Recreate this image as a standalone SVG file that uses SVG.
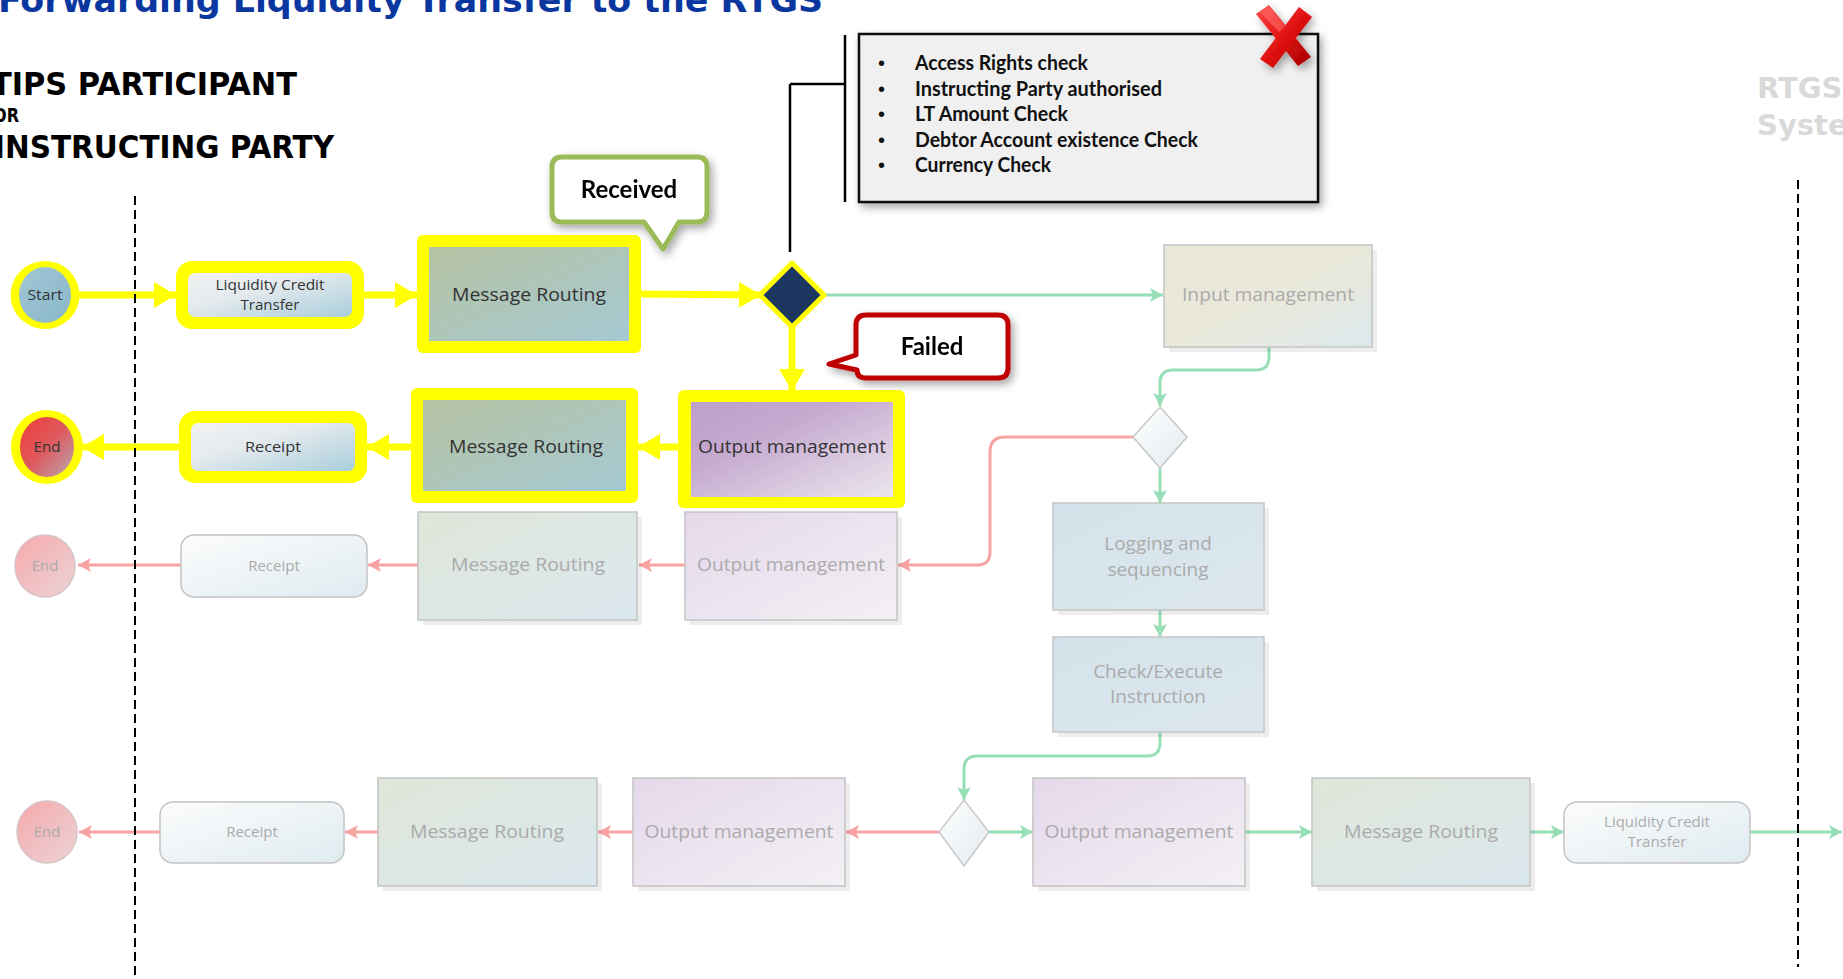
<svg xmlns="http://www.w3.org/2000/svg" width="1843" height="979" viewBox="0 0 1843 979">
<defs>
<style>
.title{font-family:"DejaVu Sans",Verdana,sans-serif;font-weight:bold;font-size:34px;fill:#0a36a0}
.hdr{font-family:"DejaVu Sans Condensed","DejaVu Sans",sans-serif;font-weight:bold;fill:#000}
.rtgs{font-family:"DejaVu Sans",sans-serif;font-weight:bold;font-size:29px;fill:#d9d9d9}
.t{font-family:"Open Sans","Noto Sans",sans-serif;font-size:19px;fill:#333;text-anchor:middle}
.ts{font-family:"Open Sans","Noto Sans",sans-serif;font-size:15px;fill:#333;text-anchor:middle}
.tf{font-family:"Open Sans","Noto Sans",sans-serif;font-size:19px;fill:#ababab;text-anchor:middle}
.tfs{font-family:"Open Sans","Noto Sans",sans-serif;font-size:15px;fill:#ababab;text-anchor:middle}
.call{font-family:Lato,"Liberation Sans",sans-serif;font-weight:bold;font-size:24px;fill:#000;text-anchor:middle}
.info{font-family:Lato,"Liberation Sans",sans-serif;font-weight:bold;font-size:20px;fill:#111}
.bul{font-family:"Liberation Sans",sans-serif;font-size:20px;fill:#111}
.yl{fill:none;stroke:#ffff00;stroke-width:7}
.gl{fill:none;stroke:#96dfb6;stroke-width:3}
.rl{fill:none;stroke:#f8a2a2;stroke-width:3}
.fbox{stroke:#c4c4c4;stroke-width:1.5}
.dash{stroke:#000;stroke-width:2;stroke-dasharray:9 5;fill:none}
.br{stroke:#000;stroke-width:2.5;fill:none}
.sh{fill:#000;opacity:0.07}
</style>
<linearGradient id="gMR" x1="0" y1="0" x2="1" y2="1"><stop offset="0" stop-color="#b6c3a2"/><stop offset="1" stop-color="#a5c9d3"/></linearGradient>
<linearGradient id="gMRf" x1="0" y1="0" x2="1" y2="1"><stop offset="0" stop-color="#dfe6d9"/><stop offset="1" stop-color="#dbe8ee"/></linearGradient>
<linearGradient id="gOM" x1="0" y1="0" x2="1" y2="1"><stop offset="0" stop-color="#bd9fca"/><stop offset="0.35" stop-color="#c5a9cf"/><stop offset="1" stop-color="#ece6ee"/></linearGradient>
<linearGradient id="gOMf" x1="0" y1="0" x2="1" y2="1"><stop offset="0" stop-color="#e5d8ea"/><stop offset="1" stop-color="#f3f0f5"/></linearGradient>
<linearGradient id="gLCT" x1="0" y1="0" x2="1" y2="1"><stop offset="0" stop-color="#f2f2f2"/><stop offset="0.4" stop-color="#e4eaee"/><stop offset="1" stop-color="#a9cedb"/></linearGradient>
<linearGradient id="gLCTf" x1="0" y1="0" x2="1" y2="1"><stop offset="0" stop-color="#fcfcfc"/><stop offset="1" stop-color="#dfebf0"/></linearGradient>
<linearGradient id="gIN" x1="0" y1="0" x2="1" y2="1"><stop offset="0" stop-color="#ebe7d6"/><stop offset="0.6" stop-color="#e8e8dc"/><stop offset="1" stop-color="#dbe9ee"/></linearGradient>
<linearGradient id="gLOG" x1="0" y1="0" x2="1" y2="1"><stop offset="0" stop-color="#d3e2ea"/><stop offset="1" stop-color="#dde8ee"/></linearGradient>
<linearGradient id="gDF" x1="0" y1="0" x2="1" y2="1"><stop offset="0" stop-color="#ffffff"/><stop offset="1" stop-color="#e2eaee"/></linearGradient>
<linearGradient id="gStart" x1="0" y1="0" x2="1" y2="1"><stop offset="0" stop-color="#a0c6d4"/><stop offset="1" stop-color="#8ab7ca"/></linearGradient>
<linearGradient id="gEnd" x1="0" y1="0" x2="1" y2="1"><stop offset="0" stop-color="#f23a3a"/><stop offset="0.5" stop-color="#de5a5e"/><stop offset="1" stop-color="#b9aab6"/></linearGradient>
<linearGradient id="gEndf" x1="0" y1="0" x2="1" y2="1"><stop offset="0" stop-color="#f5a9ab"/><stop offset="1" stop-color="#ecd3d6"/></linearGradient>
<linearGradient id="gX" x1="0" y1="0" x2="1" y2="1"><stop offset="0" stop-color="#ff4a4a"/><stop offset="0.5" stop-color="#e01010"/><stop offset="1" stop-color="#a80000"/></linearGradient>
<filter id="ds" x="-10%" y="-10%" width="130%" height="140%"><feDropShadow dx="3" dy="4" stdDeviation="4" flood-color="#000" flood-opacity="0.35"/></filter>
<marker id="ay" markerUnits="userSpaceOnUse" markerWidth="24" markerHeight="26" refX="22" refY="13" orient="auto"><path d="M0,0 L22,13 L0,26 Z" fill="#ffff00"/></marker>
<marker id="ag" markerUnits="userSpaceOnUse" markerWidth="14" markerHeight="14" refX="13" refY="7" orient="auto"><path d="M0,0 L13,7 L0,14 L3,7 Z" fill="#96dfb6"/></marker>
<marker id="ar" markerUnits="userSpaceOnUse" markerWidth="14" markerHeight="14" refX="13" refY="7" orient="auto"><path d="M0,0 L13,7 L0,14 L3,7 Z" fill="#f8a2a2"/></marker>
</defs>
<rect width="1843" height="979" fill="#ffffff"/>

<g id="title"><text class="title" x="-2" y="12" textLength="825" lengthAdjust="spacingAndGlyphs">Forwarding Liquidity Transfer to the RTGS</text></g>
<g id="lane-left-header">
<text class="hdr" x="-9" y="95" font-size="32" textLength="306" lengthAdjust="spacingAndGlyphs">TIPS PARTICIPANT</text>
<text class="hdr" x="-7" y="122" font-size="19" textLength="26" lengthAdjust="spacingAndGlyphs">OR</text>
<text class="hdr" x="-6" y="158" font-size="32" textLength="340" lengthAdjust="spacingAndGlyphs">INSTRUCTING PARTY</text>
</g>
<g id="lane-right-header">
<text class="rtgs" x="1757" y="98">RTGS</text>
<text class="rtgs" x="1757" y="135">System</text>
</g>

<g id="connectors">
<path class="yl" d="M78,295 H176" marker-end="url(#ay)"/>
<path class="yl" d="M364,295 H417" marker-end="url(#ay)"/>
<path class="yl" d="M641,294 L761,295" marker-end="url(#ay)"/>
<path class="yl" d="M792,327 V391" marker-end="url(#ay)"/>
<path class="yl" d="M679,447 H638" marker-end="url(#ay)"/>
<path class="yl" d="M411,447 H367" marker-end="url(#ay)"/>
<path class="yl" d="M179,447 H82" marker-end="url(#ay)"/>

<path class="gl" d="M824,295 H1163" marker-end="url(#ag)"/>
<path class="gl" d="M1269,347 V357 Q1269,370 1256,370 H1173 Q1160,370 1160,383 V406" marker-end="url(#ag)"/>
<path class="gl" d="M1160,468 V503" marker-end="url(#ag)"/>
<path class="gl" d="M1160,610 V637" marker-end="url(#ag)"/>
<path class="gl" d="M1160,733 V743 Q1160,756 1147,756 H977 Q964,756 964,769 V800" marker-end="url(#ag)"/>
<path class="gl" d="M989,832 H1033" marker-end="url(#ag)"/>
<path class="gl" d="M1245,832 H1312" marker-end="url(#ag)"/>
<path class="gl" d="M1530,832 H1564" marker-end="url(#ag)"/>
<path class="gl" d="M1750,832 H1842" marker-end="url(#ag)"/>

<path class="rl" d="M1133,437 H1005 Q990,437 990,452 V552 Q990,565 977,565 H898" marker-end="url(#ar)"/>
<path class="rl" d="M685,565 H639" marker-end="url(#ar)"/>
<path class="rl" d="M418,565 H368" marker-end="url(#ar)"/>
<path class="rl" d="M181,565 H78" marker-end="url(#ar)"/>
<path class="rl" d="M939,832 H846" marker-end="url(#ar)"/>
<path class="rl" d="M633,832 H598" marker-end="url(#ar)"/>
<path class="rl" d="M378,832 H345" marker-end="url(#ar)"/>
<path class="rl" d="M160,832 H79" marker-end="url(#ar)"/>

<path class="br" d="M845,35 V202"/>
<path class="br" d="M790,84 H845"/>
<path class="br" d="M790,84 V252"/>
</g>

<g id="start">
<ellipse cx="45" cy="295" rx="34.5" ry="34" fill="#ffff00"/>
<ellipse cx="45" cy="295" rx="26" ry="28" fill="url(#gStart)"/>
<text class="ts" x="45" y="300" textLength="35" lengthAdjust="spacingAndGlyphs">Start</text>
</g>
<g id="lct1">
<rect x="176" y="261" width="188" height="68" rx="16" fill="#ffff00"/>
<rect x="188" y="273" width="164" height="44" rx="7" fill="url(#gLCT)"/>
<text class="ts" x="270" y="290" textLength="109" lengthAdjust="spacingAndGlyphs">Liquidity Credit</text>
<text class="ts" x="270" y="310" textLength="59" lengthAdjust="spacingAndGlyphs">Transfer</text>
</g>
<g id="mr1">
<rect x="417" y="235" width="224" height="118" rx="6" fill="#ffff00"/>
<rect x="429" y="247" width="200" height="94" fill="url(#gMR)"/>
<text class="t" x="529" y="301" textLength="154" lengthAdjust="spacingAndGlyphs">Message Routing</text>
</g>
<g id="decision1">
<path d="M792,263 L824,295 L792,327 L760,295 Z" fill="#1b365f" stroke="#ffff00" stroke-width="5" stroke-linejoin="round"/>
</g>
<g id="received-callout" filter="url(#ds)">
<path d="M562,157 H697 Q707,157 707,167 V212 Q707,222 697,222 H679 L663,249 L644,222 H562 Q552,222 552,212 V167 Q552,157 562,157 Z" fill="#ffffff" stroke="#9bbb59" stroke-width="5" stroke-linejoin="round"/>
<text class="call" x="629" y="198">Received</text>
</g>
<g id="checks-box">
<rect x="859" y="34" width="459" height="168" fill="#f0f0f0" stroke="#111" stroke-width="2.5" filter="url(#ds)"/>
<text class="bul" x="878" y="70">•</text><text class="info" x="915" y="70" textLength="173" lengthAdjust="spacingAndGlyphs">Access Rights check</text>
<text class="bul" x="878" y="96">•</text><text class="info" x="915" y="96" textLength="247" lengthAdjust="spacingAndGlyphs">Instructing Party authorised</text>
<text class="bul" x="878" y="121">•</text><text class="info" x="915" y="121" textLength="153" lengthAdjust="spacingAndGlyphs">LT Amount Check</text>
<text class="bul" x="878" y="147">•</text><text class="info" x="915" y="147" textLength="283" lengthAdjust="spacingAndGlyphs">Debtor Account existence Check</text>
<text class="bul" x="878" y="172">•</text><text class="info" x="915" y="172" textLength="136" lengthAdjust="spacingAndGlyphs">Currency Check</text>
</g>
<g id="red-x" filter="url(#ds)">
<path d="M1256,14 L1269,5 L1311,57 L1298,66 Z" fill="url(#gX)"/>
<path d="M1260,59 L1299,7 L1312,17 L1273,68 Z" fill="url(#gX)"/>
<path d="M1260,12 L1269,6 L1285,26 L1279,32 Z" fill="#ff6a6a" opacity="0.6"/>
</g>
<g id="input-mgmt">
<rect class="sh" x="1169" y="250" width="208" height="102"/>
<rect class="fbox" x="1164" y="245" width="208" height="102" fill="url(#gIN)"/>
<text class="tf" x="1268" y="301" textLength="172" lengthAdjust="spacingAndGlyphs">Input management</text>
</g>

<g id="end1">
<ellipse cx="47" cy="447" rx="36" ry="37" fill="#ffff00"/>
<ellipse cx="47" cy="447" rx="27" ry="30" fill="url(#gEnd)"/>
<text class="ts" x="47" y="452" textLength="27" lengthAdjust="spacingAndGlyphs">End</text>
</g>
<g id="receipt1">
<rect x="179" y="411" width="188" height="72" rx="16" fill="#ffff00"/>
<rect x="191" y="423" width="164" height="48" rx="7" fill="url(#gLCT)"/>
<text class="ts" x="273" y="452" textLength="56" lengthAdjust="spacingAndGlyphs">Receipt</text>
</g>
<g id="mr2">
<rect x="411" y="388" width="227" height="115" rx="6" fill="#ffff00"/>
<rect x="423" y="400" width="203" height="91" fill="url(#gMR)"/>
<text class="t" x="526" y="453" textLength="154" lengthAdjust="spacingAndGlyphs">Message Routing</text>
</g>
<g id="om1">
<rect x="678" y="390" width="227" height="118" rx="6" fill="#ffff00"/>
<rect x="691" y="402" width="202" height="95" fill="url(#gOM)"/>
<text class="t" x="792" y="453" textLength="188" lengthAdjust="spacingAndGlyphs">Output management</text>
</g>
<g id="failed-callout" filter="url(#ds)">
<path d="M866,315 H998 Q1008,315 1008,325 V368 Q1008,378 998,378 H866 Q857,378 857,370 L829,364 L856,355 V325 Q856,315 866,315 Z" fill="#ffffff" stroke="#c00000" stroke-width="5" stroke-linejoin="round"/>
<text class="call" x="932" y="355">Failed</text>
</g>

<g id="decision2">
<path d="M1160,407 L1187,437 L1160,468 L1133,437 Z" fill="url(#gDF)" stroke="#c8c8c8" stroke-width="1.5"/>
</g>
<g id="logging">
<rect class="sh" x="1058" y="508" width="211" height="107"/>
<rect class="fbox" x="1053" y="503" width="211" height="107" fill="url(#gLOG)"/>
<text class="tf" x="1158" y="550">Logging and</text>
<text class="tf" x="1158" y="576">sequencing</text>
</g>
<g id="check-execute">
<rect class="sh" x="1058" y="642" width="211" height="95"/>
<rect class="fbox" x="1053" y="637" width="211" height="95" fill="url(#gLOG)"/>
<text class="tf" x="1158" y="678">Check/Execute</text>
<text class="tf" x="1158" y="703">Instruction</text>
</g>

<g id="end2">
<ellipse cx="45" cy="566" rx="30" ry="31" fill="url(#gEndf)" stroke="#d8c4c6" stroke-width="1.5"/>
<text class="tfs" x="45" y="571">End</text>
</g>
<g id="receipt2">
<rect class="fbox" x="181" y="535" width="186" height="62" rx="13" fill="url(#gLCTf)"/>
<text class="tfs" x="274" y="571">Receipt</text>
</g>
<g id="mr3">
<rect class="sh" x="423" y="517" width="219" height="108"/>
<rect class="fbox" x="418" y="512" width="219" height="108" fill="url(#gMRf)"/>
<text class="tf" x="528" y="571" textLength="154" lengthAdjust="spacingAndGlyphs">Message Routing</text>
</g>
<g id="om2">
<rect class="sh" x="690" y="517" width="212" height="108"/>
<rect class="fbox" x="685" y="512" width="212" height="108" fill="url(#gOMf)"/>
<text class="tf" x="791" y="571" textLength="188" lengthAdjust="spacingAndGlyphs">Output management</text>
</g>

<g id="end3">
<ellipse cx="47" cy="832" rx="30" ry="31" fill="url(#gEndf)" stroke="#d8c4c6" stroke-width="1.5"/>
<text class="tfs" x="47" y="837">End</text>
</g>
<g id="receipt3">
<rect class="fbox" x="160" y="802" width="184" height="61" rx="13" fill="url(#gLCTf)"/>
<text class="tfs" x="252" y="837">Receipt</text>
</g>
<g id="mr4">
<rect class="sh" x="383" y="783" width="219" height="108"/>
<rect class="fbox" x="378" y="778" width="219" height="108" fill="url(#gMRf)"/>
<text class="tf" x="487" y="838" textLength="154" lengthAdjust="spacingAndGlyphs">Message Routing</text>
</g>
<g id="om3">
<rect class="sh" x="638" y="783" width="212" height="108"/>
<rect class="fbox" x="633" y="778" width="212" height="108" fill="url(#gOMf)"/>
<text class="tf" x="739" y="838" textLength="189" lengthAdjust="spacingAndGlyphs">Output management</text>
</g>
<g id="decision3">
<path d="M964,800 L989,832 L964,866 L939,832 Z" fill="url(#gDF)" stroke="#c8c8c8" stroke-width="1.5"/>
</g>
<g id="om4">
<rect class="sh" x="1038" y="783" width="212" height="108"/>
<rect class="fbox" x="1033" y="778" width="212" height="108" fill="url(#gOMf)"/>
<text class="tf" x="1139" y="838" textLength="189" lengthAdjust="spacingAndGlyphs">Output management</text>
</g>
<g id="mr5">
<rect class="sh" x="1317" y="783" width="218" height="108"/>
<rect class="fbox" x="1312" y="778" width="218" height="108" fill="url(#gMRf)"/>
<text class="tf" x="1421" y="838" textLength="154" lengthAdjust="spacingAndGlyphs">Message Routing</text>
</g>
<g id="lct2">
<rect class="fbox" x="1564" y="802" width="186" height="61" rx="13" fill="url(#gLCTf)"/>
<text class="tfs" x="1657" y="827">Liquidity Credit</text>
<text class="tfs" x="1657" y="847">Transfer</text>
</g>

<g id="lane-dividers">
<path class="dash" d="M135,196 V979"/>
<path class="dash" d="M1798,180 V967"/>
</g>
</svg>
